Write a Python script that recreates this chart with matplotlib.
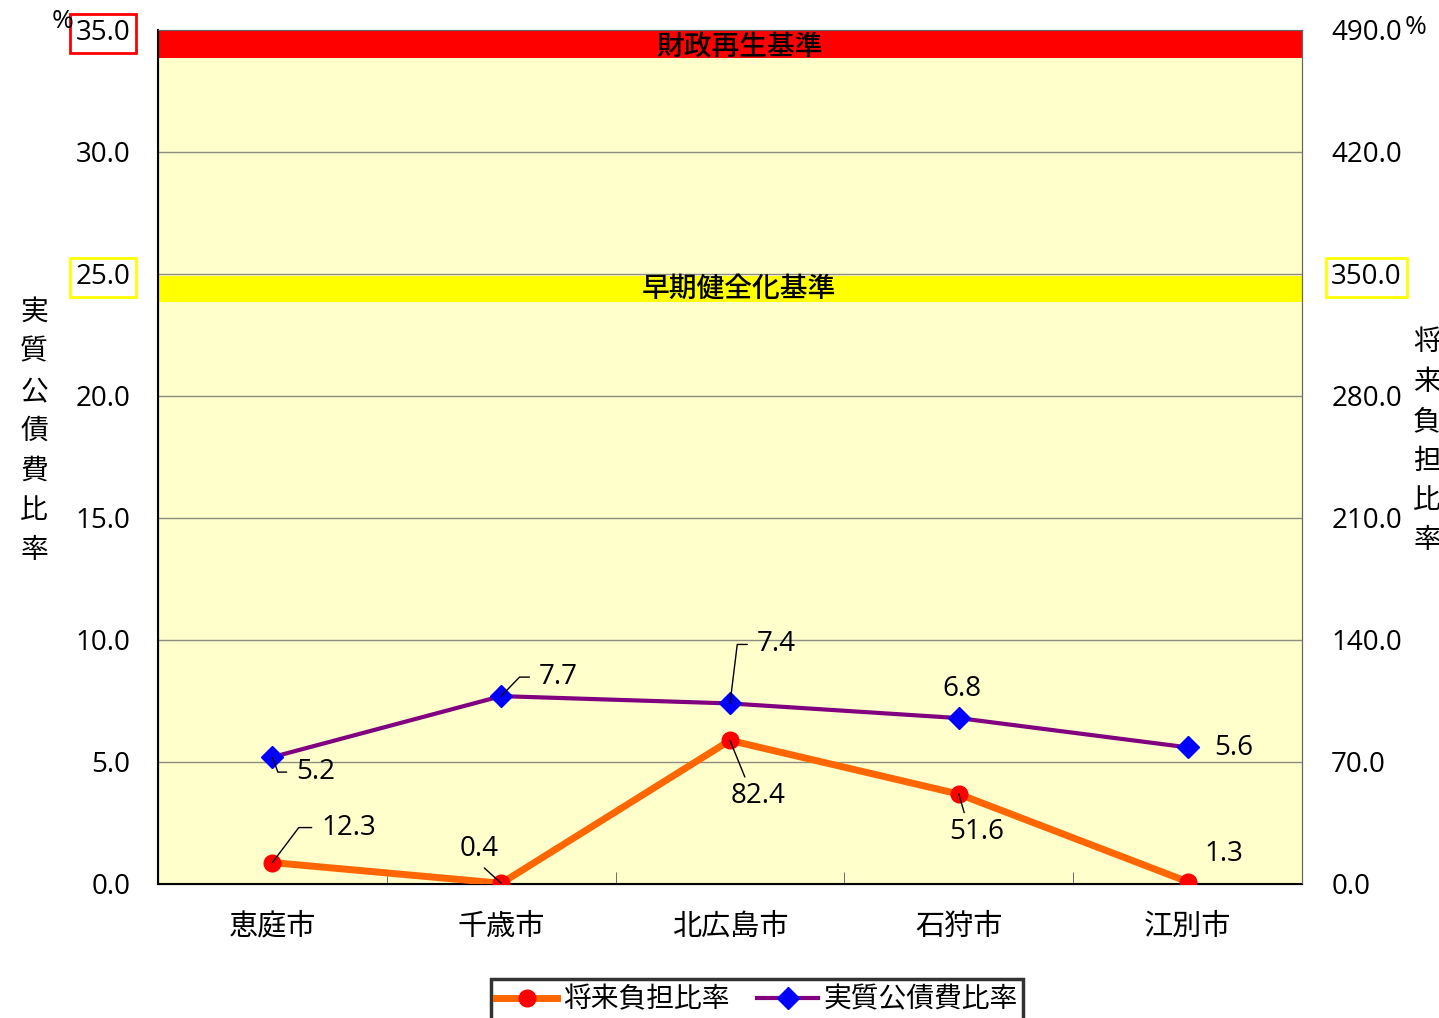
import matplotlib
matplotlib.use("Agg")
import matplotlib.pyplot as plt
from matplotlib.lines import Line2D

plt.rcParams['font.family'] = ['Open Sans', 'Noto Sans CJK JP', 'DejaVu Sans']
CJK = ['Noto Sans CJK JP', 'DejaVu Sans']

# data
cities = ["恵庭市", "千歳市", "北広島市", "石狩市", "江別市"]
debt_ratio = [5.2, 7.7, 7.4, 6.8, 5.6]          # 実質公債費比率 (left axis)
burden_ratio = [12.3, 0.4, 82.4, 51.6, 1.3]     # 将来負担比率 (right axis)
left_ticks = [0.0, 5.0, 10.0, 15.0, 20.0, 25.0, 30.0, 35.0]
right_ticks = [0.0, 70.0, 140.0, 210.0, 280.0, 350.0, 420.0, 490.0]
rebuild_band = (33.85, 34.95)     # 財政再生基準
early_band = (23.85, 24.9)        # 早期健全化基準

W, H = 1439, 1018
fig = plt.figure(figsize=(W / 100, H / 100), dpi=100)
ax = fig.add_axes([158 / W, 1 - 884 / H, (1302 - 158) / W, (884 - 30) / H])
ax2 = ax.twinx()

ax.set_facecolor('#FFFFCC')
x = list(range(len(cities)))
ax.set_xlim(-0.5, len(cities) - 0.5)
ax.set_ylim(left_ticks[0], left_ticks[-1])
ax2.set_ylim(right_ticks[0], right_ticks[-1])

ax.axhspan(*rebuild_band, color='#FF0000', zorder=1, lw=0)
ax.axhspan(*early_band, color='#FFFF00', zorder=1, lw=0)
ax.text(2.04, sum(rebuild_band) / 2 - 0.05, "財政再生基準", ha='center', va='center', fontsize=20,
        family=CJK, fontweight='medium', zorder=3)
ax.text(2.04, sum(early_band) / 2 + 0.02, "早期健全化基準", ha='center', va='center', fontsize=20,
        family=CJK, fontweight='medium', zorder=3)

ax.set_yticks(left_ticks)
ax.set_yticklabels([f"{v:.1f}" for v in left_ticks], fontsize=20)
ax2.set_yticks(right_ticks)
ax2.set_yticklabels([f"{v:.1f}" for v in right_ticks], fontsize=20)
ax.grid(axis='y', color='#8c8c80', lw=1, zorder=0)
ax.set_axisbelow(True)
ax.tick_params(axis='y', length=0, pad=20)
ax2.tick_params(axis='y', length=0, pad=21)

ax.set_xticks(x)
ax.set_xticklabels(cities, fontsize=21, family=CJK)
ax.set_xticks([i + 0.5 for i in x[:-1]], minor=True)
ax.tick_params(axis='x', which='major', length=0, pad=20)
ax.tick_params(axis='x', which='minor', length=9, direction='in', color='#555555')

for s in ['left', 'bottom']:
    ax.spines[s].set_linewidth(1.5)
for s in ['top', 'right']:
    ax.spines[s].set_color('#666666')
    ax2.spines[s].set_color('#666666')

# boxes around the criterion tick labels
tl = ax.get_yticklabels()
tl[-1].set_bbox(dict(facecolor='white', edgecolor='#FF0000', lw=2, pad=4))
tl[5].set_bbox(dict(facecolor='white', edgecolor='#FFFF00', lw=2, pad=4))
ax2.get_yticklabels()[5].set_bbox(dict(facecolor='white', edgecolor='#FFFF00', lw=2, pad=4))

# lines
ax.plot(x, debt_ratio, color='#800080', lw=3, marker='D', ms=11, mfc='#0000FF', mec='#0000FF', zorder=5)
ax2.plot(x, burden_ratio, color='#FF6600', lw=5, marker='o', ms=12, mfc='#FF0000', mec='#FF0000', zorder=5)
ax2.set_zorder(ax.get_zorder() + 1)
ax2.patch.set_visible(False)


def label(axis, xi, yi, text, off, ha='left', bend=None, straight=False, rel=(0, 0.5)):
    kw = dict(textcoords='offset pixels', xytext=off, ha=ha, va='center', fontsize=20, zorder=6)
    if bend is not None:
        kw['arrowprops'] = dict(arrowstyle='-', color='black', lw=1, relpos=rel, shrinkA=5, shrinkB=0,
                                connectionstyle=f"angle,angleA=0,angleB={bend},rad=0")
    elif straight:
        kw['arrowprops'] = dict(arrowstyle='-', color='black', lw=1, relpos=rel, shrinkA=2, shrinkB=0)
    axis.annotate(text, (xi, yi), **kw)


# 実質公債費比率 labels
label(ax, 0, debt_ratio[0], f"{debt_ratio[0]:.1f}", (24, -15), bend=-70)
label(ax, 1, debt_ratio[1], f"{debt_ratio[1]:.1f}", (38, 19), bend=46)
label(ax, 2, debt_ratio[2], f"{debt_ratio[2]:.1f}", (27, 59), bend=83)
label(ax, 3, debt_ratio[3], f"{debt_ratio[3]:.1f}", (3, 29), ha='center')
label(ax, 4, debt_ratio[4], f"{debt_ratio[4]:.1f}", (27, -1))
# 将来負担比率 labels
label(ax2, 0, burden_ratio[0], f"{burden_ratio[0]:.1f}", (49, 35), bend=53)
label(ax2, 1, burden_ratio[1], f"{burden_ratio[1]:.1f}", (-22, 34), ha='center', straight=True, rel=(0.5, 0))
label(ax2, 2, burden_ratio[2], f"{burden_ratio[2]:.1f}", (28, -56), ha='center', straight=True, rel=(0.3, 1))
label(ax2, 3, burden_ratio[3], f"{burden_ratio[3]:.1f}", (18, -38), ha='center', straight=True, rel=(0.3, 1))
label(ax2, 4, burden_ratio[4], f"{burden_ratio[4]:.1f}", (36, 28), ha='center')

# axis titles and units
fig.text(34 / W, 1 - 431 / H, "\n".join("実質公債費比率"), ha='center', va='center', fontsize=20,
         family=CJK, linespacing=1.42)
fig.text(1427 / W, 1 - 441 / H, "\n".join("将来負担比率"), ha='center', va='center', fontsize=20,
         family=CJK, linespacing=1.42)
fig.text(63 / W, 1 - 22 / H, "%", ha='center', va='center', fontsize=19)
fig.text(1416 / W, 1 - 27 / H, "%", ha='center', va='center', fontsize=19)

handles = [
    Line2D([], [], color='#FF6600', lw=5, marker='o', ms=12, mfc='#FF0000', mec='#FF0000'),
    Line2D([], [], color='#800080', lw=3, marker='D', ms=11, mfc='#0000FF', mec='#0000FF'),
]
leg = fig.legend(handles, ["将来負担比率", "実質公債費比率"], loc='upper center', ncol=2,
                 bbox_to_anchor=(757 / W, 1 - 979 / H), borderaxespad=0,
                 prop={'family': CJK, 'size': 20}, frameon=True, fancybox=False,
                 handlelength=2.2, handletextpad=0.2, columnspacing=1.0, borderpad=0.2)
leg.get_frame().set_edgecolor('black')
leg.get_frame().set_linewidth(2.5)

fig.savefig("out.png", dpi=100)
